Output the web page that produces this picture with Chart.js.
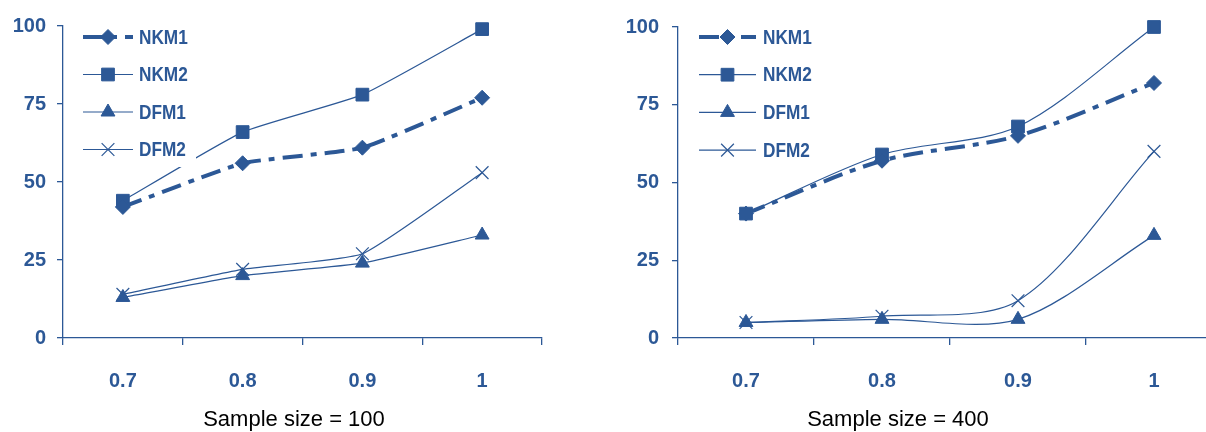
<!DOCTYPE html>
<html>
<head>
<meta charset="utf-8">
<script src="https://cdn.jsdelivr.net/npm/chart.js@4/dist/chart.umd.min.js"></script>
<style>
  html, body { margin: 0; padding: 0; background: #ffffff; }
  body { position: relative; width: 1206px; height: 432px; overflow: hidden; }
  .box { position: absolute; top: 0; height: 432px; }
  .cap { position: absolute; top: 408px; transform: translateX(-50%);
         font-family: "Liberation Sans", Arial, sans-serif; font-size: 22px;
         line-height: 1; color: #000; white-space: nowrap; }
</style>
</head>
<body>
<div class="box" style="left:0px;width:560px"><canvas id="c1" width="560" height="432"></canvas></div>
<div class="box" style="left:615px;width:625px"><canvas id="c2" width="625" height="432"></canvas></div>
<div class="cap" id="t1" style="left:294px"></div>
<div class="cap" id="t2" style="left:898px"></div>
<script>
// ---- data ----
const CATEGORIES = ['0.7', '0.8', '0.9', '1'];
const SERIES_NAMES = ['NKM1', 'NKM2', 'DFM1', 'DFM2'];
const Y_TICKS = [0, 25, 50, 75, 100];
const TITLES = ['Sample size = 100', 'Sample size = 400'];

const N100_NKM1 = [42, 56, 61, 77];
const N100_NKM2 = [44, 66, 78, 99];
const N100_DFM1 = [13, 20, 24, 33];
const N100_DFM2 = [14, 22, 27, 53];

const N400_NKM1 = [40, 57, 65, 82];
const N400_NKM2 = [40, 59, 68, 100];
const N400_DFM1 = [5, 6, 6, 33];
const N400_DFM2 = [5, 7, 12, 60];

// ---- styles ----
const BLUE = '#2C5896';
const FONT = '"Liberation Sans", Arial, sans-serif';

const STYLES = [
  { borderWidth: 4, borderDash: [20, 8, 6, 8], pointStyle: 'rectRot', pointRadius: 7.5, pointBorderWidth: 1 },
  { borderWidth: 1.2, borderDash: [], pointStyle: 'rect', pointRadius: 9, pointBorderWidth: 1 },
  { borderWidth: 1.2, borderDash: [], pointStyle: 'triangle', pointRadius: 8, pointBorderWidth: 1 },
  { borderWidth: 1.2, borderDash: [], pointStyle: 'crossRot', pointRadius: 9, pointBorderWidth: 1.2 }
];

function makeDatasets(seriesList, tension) {
  return seriesList.map((vals, i) => Object.assign({
    label: SERIES_NAMES[i],
    data: vals,
    borderColor: BLUE,
    backgroundColor: BLUE,
    pointBackgroundColor: BLUE,
    pointBorderColor: BLUE,
    pointHoverRadius: STYLES[i].pointRadius,
    tension: tension,
    fill: false,
    clip: false
  }, STYLES[i]));
}

const boxLegend = {
  id: 'boxLegend',
  afterDatasetsDraw(chart, args, o) {
    const ctx = chart.ctx, a = chart.chartArea;
    ctx.save();
    ctx.fillStyle = '#ffffff';
    ctx.fillRect(a.left + o.boxX, a.top + o.boxY, o.boxW, o.boxH);
    chart.data.datasets.forEach((ds, i) => {
      const y = a.top + o.rowY + i * o.rowGap;
      const x0 = a.left + o.lineX, x1 = x0 + o.lineLen;
      ctx.save();
      ctx.beginPath();
      ctx.rect(x0, y - 10, o.lineLen, 20);
      ctx.clip();
      ctx.strokeStyle = ds.borderColor;
      ctx.lineWidth = ds.borderWidth;
      ctx.setLineDash(ds.borderDash || []);
      ctx.beginPath(); ctx.moveTo(x0, y); ctx.lineTo(x1, y); ctx.stroke();
      ctx.restore();
      ctx.setLineDash([]);
      ctx.fillStyle = ds.pointBackgroundColor;
      ctx.strokeStyle = ds.pointBorderColor;
      ctx.lineWidth = ds.pointBorderWidth;
      Chart.helpers.drawPoint(ctx, { pointStyle: ds.pointStyle, radius: ds.pointRadius,
        borderWidth: ds.pointBorderWidth, rotation: 0 }, (x0 + x1) / 2, y);
      // condensed bold label (narrow look)
      ctx.save();
      ctx.translate(x1 + o.textGap, y);
      ctx.scale(0.82, 1);
      ctx.fillStyle = BLUE;
      ctx.font = 'bold 21px ' + FONT;
      ctx.textBaseline = 'middle';
      ctx.textAlign = 'left';
      ctx.fillText(ds.label, 0, 1);
      ctx.restore();
    });
    ctx.restore();
  }
};

function makeChart(id, seriesList, lg, padTop, tension) {
  return new Chart(document.getElementById(id), {
    type: 'line',
    data: { labels: CATEGORIES, datasets: makeDatasets(seriesList, tension) },
    options: {
      responsive: false,
      animation: false,
      events: [],
      layout: { padding: { top: padTop, right: 18, bottom: 0, left: 0 } },
      plugins: { legend: { display: false }, tooltip: { enabled: false }, title: { display: false },
                 boxLegend: lg },
      scales: {
        x: {
          type: 'category',
          offset: true,
          grid: { offset: true, drawOnChartArea: false, drawTicks: true, tickLength: 7,
                  color: BLUE, lineWidth: 1.3 },
          border: { display: true, color: BLUE, width: 1.3 },
          ticks: { color: BLUE, padding: 24, font: { family: FONT, size: 20, weight: 'bold' } },
          afterFit(s) { s.height = 94; }
        },
        y: {
          min: 0, max: 100,
          afterBuildTicks(s) { s.ticks = Y_TICKS.map(v => ({ value: v })); },
          grid: { drawOnChartArea: false, drawTicks: true, tickLength: 6, color: BLUE, lineWidth: 1.3 },
          border: { display: true, color: BLUE, width: 1.3 },
          ticks: { color: BLUE, padding: lg.yPad, font: { family: FONT, size: 20, weight: 'bold' } },
          afterFit(s) { s.width = lg.yWidth; }
        }
      }
    },
    plugins: [boxLegend]
  });
}

makeChart('c1', [N100_NKM1, N100_NKM2, N100_DFM1, N100_DFM2],
  { boxX: 9, boxY: -11, boxW: 124, boxH: 152, rowY: 11, rowGap: 37.5,
    lineX: 20, lineLen: 50, textGap: 6, yPad: 11, yWidth: 63 }, 26, 0.15);
makeChart('c2', [N400_NKM1, N400_NKM2, N400_DFM1, N400_DFM2],
  { boxX: 12, boxY: -12, boxW: 140, boxH: 152, rowY: 10, rowGap: 37.7,
    lineX: 21, lineLen: 57, textGap: 7, yPad: 13, yWidth: 63 }, 27, 0.3);

document.getElementById('t1').textContent = TITLES[0];
document.getElementById('t2').textContent = TITLES[1];
</script>
</body>
</html>
